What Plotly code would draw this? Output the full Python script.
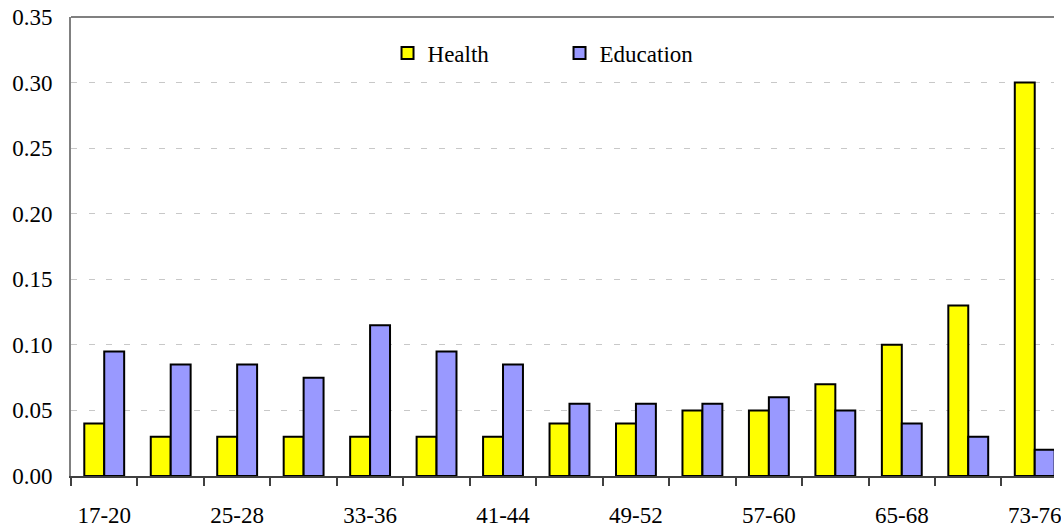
import plotly.graph_objects as go

# Age bands (four-year groups) on the horizontal axis
age_bands = ["17-20", "21-24", "25-28", "29-32", "33-36", "37-40", "41-44", "45-48",
             "49-52", "53-56", "57-60", "61-64", "65-68", "69-72", "73-76"]

health = [0.04, 0.03, 0.03, 0.03, 0.03, 0.03, 0.03, 0.04,
          0.04, 0.05, 0.05, 0.07, 0.10, 0.13, 0.30]
education = [0.095, 0.085, 0.085, 0.075, 0.115, 0.095, 0.085, 0.055,
             0.055, 0.055, 0.06, 0.05, 0.04, 0.03, 0.02]

# every other band is labelled
tick_text = [b if i % 2 == 0 else "" for i, b in enumerate(age_bands)]

FONT = "Liberation Serif"

fig = go.Figure()
fig.add_trace(go.Bar(
    name="Health", x=age_bands, y=health,
    marker=dict(color="#FFFF00", line=dict(color="#000000", width=2)),
))
fig.add_trace(go.Bar(
    name="Education", x=age_bands, y=education,
    marker=dict(color="#9999FF", line=dict(color="#000000", width=2)),
))

fig.update_layout(
    width=1061, height=529,
    margin=dict(l=71, r=0, t=17, b=53),
    paper_bgcolor="white", plot_bgcolor="white",
    barmode="group", bargap=0.4, bargroupgap=0,
    font=dict(family=FONT, size=23, color="#000000"),
    showlegend=True,
    legend=dict(
        orientation="h", x=0.322, xanchor="left", y=0.9216, yanchor="middle",
        bgcolor="rgba(0,0,0,0)", font=dict(family=FONT, size=23),
        entrywidth=127, itemclick=False,
    ),
    xaxis=dict(
        type="category",
        range=[-0.5, 14.29],
        tickmode="array", tickvals=age_bands, ticktext=tick_text,
        tickson="boundaries", ticks="outside", ticklen=8, tickwidth=1.5,
        tickcolor="#404040",
        showline=True, linecolor="#404040", linewidth=2,
        showgrid=False, zeroline=False,
        ticklabelstandoff=17,
        tickfont=dict(family=FONT, size=23, color="#000000"),
    ),
    yaxis=dict(
        range=[0, 0.35], dtick=0.05, tick0=0, tickformat=".2f",
        showline=True, linecolor="#808080", linewidth=2,
        ticks="", ticklabelstandoff=12,
        showgrid=True, gridcolor="#C8C8C8", gridwidth=1,
        griddash="6px,11.5px",
        zeroline=False,
        tickfont=dict(family=FONT, size=23, color="#000000"),
    ),
    shapes=[dict(type="line", xref="paper", yref="paper", x0=0, x1=1, y0=1, y1=1,
                 line=dict(color="#808080", width=2))],
)

fig.write_html("out.html")
